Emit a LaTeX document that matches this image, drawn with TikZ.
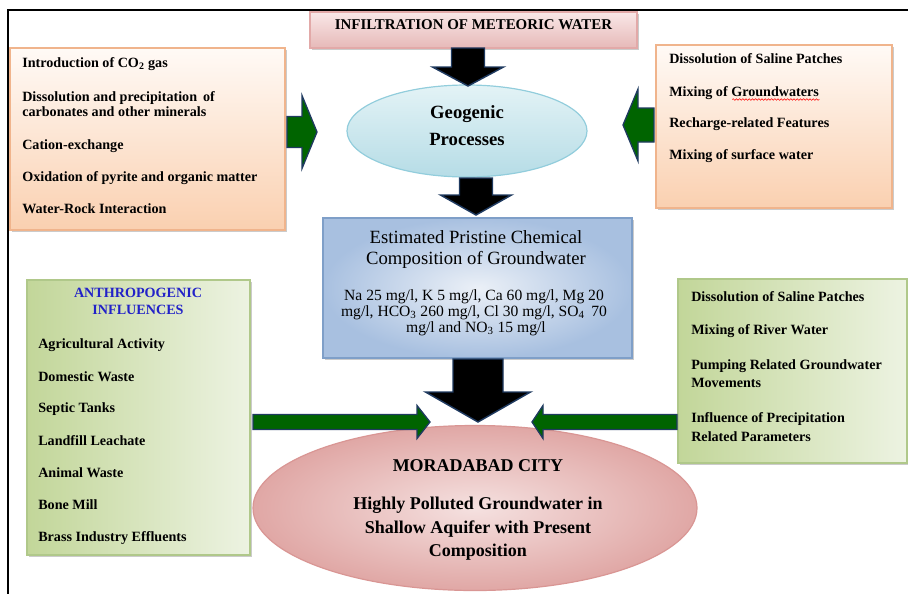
\documentclass[tikz,border=0pt]{standalone}
\usepackage{fontspec}
\setmainfont{Liberation Serif}
\usetikzlibrary{shapes.geometric,shadows,calc,decorations.pathmorphing}

\definecolor{peachtop}{HTML}{FFFAF6}
\definecolor{peachbot}{HTML}{FAD0B0}
\definecolor{peachline}{HTML}{F0B48C}
\definecolor{greenA}{HTML}{C2D699}
\definecolor{greenB}{HTML}{EDF3E2}
\definecolor{greenline}{HTML}{B0C88A}
\definecolor{blueout}{HTML}{A8C0E0}
\definecolor{bluein}{HTML}{EBF0F7}
\definecolor{blueline}{HTML}{7F9FC8}
\definecolor{geotop}{HTML}{E3F3F6}
\definecolor{geobot}{HTML}{B6DCE6}
\definecolor{geoline}{HTML}{92CDDC}
\definecolor{cityin}{HTML}{F5E1E0}
\definecolor{cityout}{HTML}{E0A7A5}
\definecolor{cityline}{HTML}{D99694}
\definecolor{bantop}{HTML}{F9E7E7}
\definecolor{banbot}{HTML}{E6B9B8}
\definecolor{banline}{HTML}{E2A9A8}
\definecolor{arrgreen}{HTML}{006400}
\definecolor{navyedge}{HTML}{1F3A60}
\definecolor{titleblue}{HTML}{2222C8}

\newcommand\fitem{\fontsize{10.6}{11.25}\selectfont\bfseries}
\newcommand\fbig{\fontsize{14}{16}\selectfont\bfseries}
\newcommand\fmidtitle{\fontsize{14}{16}\selectfont}
\newcommand\fmidbody{\fontsize{11.7}{12.5}\selectfont}

% vertical down block arrow: x, ytop, yhead, ytip, shaft half, head half
\newcommand\dnblk[6]{%
  \filldraw[blkarrow] (#1-#5,#2) -- (#1+#5,#2) -- (#1+#5,#3) -- (#1+#6,#3)
    -- (#1,#4) -- (#1-#6,#3) -- (#1-#5,#3) -- cycle;}
% horizontal block arrow: ycenter, xstart, xhead, xtip, shaft half, head half
\newcommand\hzblk[6]{%
  \filldraw[grnarrow] (#2,#1-#5) -- (#3,#1-#5) -- (#3,#1-#6) -- (#4,#1)
    -- (#3,#1+#6) -- (#3,#1+#5) -- (#2,#1+#5) -- cycle;}

\tikzset{
  shad/.style={drop shadow={shadow xshift=1.6pt,shadow yshift=-1.6pt,fill=black!45,opacity=0.45}},
  peachbox/.style={rectangle,draw=peachline,line width=0.9pt,top color=peachtop,bottom color=peachbot,shad,inner sep=0pt},
  greenbox/.style={rectangle,draw=greenline,line width=0.8pt,left color=greenA,right color=greenB,shad,inner sep=0pt},
  bluebox/.style={rectangle,draw=blueline,line width=0.9pt,inner color=bluein,outer color=blueout,shad,inner sep=0pt},
  banbox/.style={rectangle,draw=banline,line width=0.8pt,top color=bantop,bottom color=banbot,shad,inner sep=0pt},
  geoell/.style={ellipse,draw=geoline,line width=0.9pt,top color=geotop,bottom color=geobot,inner sep=0pt},
  cityell/.style={ellipse,draw=cityline,line width=0.9pt,inner color=cityin,outer color=cityout,inner sep=0pt},
  itm/.style={anchor=base west,inner sep=0pt,font=\fitem},
  ctr/.style={anchor=base,inner sep=0pt},
  blkarrow/.style={fill=black,draw=navyedge,line width=1.1pt,line join=miter},
  grnarrow/.style={fill=arrgreen,draw=navyedge,line width=1pt,line join=miter},
}

\begin{document}
\begin{tikzpicture}[x=0.75pt,y=-0.75pt]
\useasboundingbox (0,0) rectangle (908,594);

% frame
\draw[line width=2pt] (908,10) -- (8,10) -- (8,594);

% boxes and ellipses
\node[banbox,minimum width={327*0.75pt},minimum height={36*0.75pt}] (banner) at (473.5,30) {};
\node[peachbox,minimum width={275*0.75pt},minimum height={182*0.75pt}] (ltop) at (147.5,139) {};
\node[peachbox,minimum width={236*0.75pt},minimum height={163*0.75pt}] (rtop) at (774,126.5) {};
\node[geoell,minimum width={240*0.75pt},minimum height={92*0.75pt}] (geo) at (467,131) {};
\node[bluebox,minimum width={309*0.75pt},minimum height={140*0.75pt}] (mid) at (477.5,288) {};
\node[greenbox,minimum width={223*0.75pt},minimum height={275*0.75pt}] (lbot) at (138.5,417.5) {};
\node[greenbox,minimum width={229*0.75pt},minimum height={184*0.75pt}] (rbot) at (792.5,371) {};
\node[cityell,minimum width={444*0.75pt},minimum height={165*0.75pt}] (city) at (475,508) {};

% block arrows
\dnblk{468}{48}{67}{86}{16.5}{35.5}
\dnblk{476}{178}{195}{215}{16.5}{35.5}
\dnblk{478}{359}{392}{422}{25}{52.5}
\hzblk{132}{287}{302}{317}{15.5}{36.5}
\hzblk{125}{654}{638}{623}{17}{36}
\hzblk{422}{253}{417}{430}{7.5}{16.5}
\hzblk{422}{677}{543}{532}{7.5}{16.5}

% banner text
\node[ctr,font=\fontsize{11.2}{12}\selectfont\bfseries] (bantxt) at (473.5,29) {INFILTRATION OF METEORIC WATER};

% left top items
\node[itm] (lt1) at (22,67) {Introduction of CO\textsubscript{2} gas};
\node[itm] (lt2) at (22,101) {Dissolution and precipitation\, of};
\node[itm] (lt3) at (22,116) {carbonates and other minerals};
\node[itm] (lt4) at (22,149) {Cation-exchange};
\node[itm] (lt5) at (22,181) {Oxidation of pyrite and organic matter};
\node[itm] (lt6) at (22,213) {Water-Rock Interaction};

% right top items
\node[itm] (rt1) at (669,63) {Dissolution of Saline Patches};
\node[itm] (rt2) at (669,96) {Mixing of Groundwaters};
\node[itm] (rt3) at (669,127) {Recharge-related Features};
\node[itm] (rt4) at (669,159) {Mixing of surface water};
\draw[red,line width=0.4pt,decorate,decoration={snake,amplitude=0.6pt,segment length=2.4pt}]
  ($(rt2.base east)+(-87,3.5)$) -- ($(rt2.base east)+(0,3.5)$);

% geogenic
\node[ctr,font=\fbig] (geo1) at (467,118) {Geogenic};
\node[ctr,font=\fbig] (geo2) at (467,145) {Processes};

% middle box text
\node[ctr,font=\fmidtitle] (m1) at (476,243) {Estimated Pristine Chemical};
\node[ctr,font=\fmidtitle] (m2) at (476,264) {Composition of Groundwater};
\node[ctr,font=\fmidbody] (m3) at (474,300) {Na 25 mg/l, K 5 mg/l, Ca 60 mg/l, Mg 20};
\node[ctr,font=\fmidbody] (m4) at (474,316) {mg/l, HCO\textsubscript{3} 260 mg/l, Cl 30 mg/l, SO\textsubscript{4}\, 70};
\node[ctr,font=\fmidbody] (m5) at (476,332) {mg/l and NO\textsubscript{3} 15 mg/l};

% left bottom
\node[ctr,font=\fitem,text=titleblue] (lb0a) at (138,297) {ANTHROPOGENIC};
\node[ctr,font=\fitem,text=titleblue] (lb0b) at (138,314) {INFLUENCES};
\node[itm] (lb1) at (38,348) {Agricultural Activity};
\node[itm] (lb2) at (38,381) {Domestic Waste};
\node[itm] (lb3) at (38,412) {Septic Tanks};
\node[itm] (lb4) at (38,445) {Landfill Leachate};
\node[itm] (lb5) at (38,477) {Animal Waste};
\node[itm] (lb6) at (38,509) {Bone Mill};
\node[itm] (lb7) at (38,541) {Brass Industry Effluents};

% right bottom
\node[itm] (rb1) at (691,301) {Dissolution of Saline Patches};
\node[itm] (rb2) at (691,334) {Mixing of River Water};
\node[itm] (rb3) at (691,369) {Pumping Related Groundwater};
\node[itm] (rb4) at (691,387) {Movements};
\node[itm] (rb5) at (691,422) {Influence of Precipitation};
\node[itm] (rb6) at (691,441) {Related Parameters};

% city
\node[ctr,font=\fontsize{13.5}{15}\selectfont\bfseries] (c1) at (478,471) {MORADABAD CITY};
\node[ctr,font=\fontsize{13.5}{15}\selectfont\bfseries] (c2) at (478,509) {Highly Polluted Groundwater in};
\node[ctr,font=\fontsize{13.5}{15}\selectfont\bfseries] (c3) at (478,533) {Shallow Aquifer with Present};
\node[ctr,font=\fontsize{13.5}{15}\selectfont\bfseries] (c4) at (478,556) {Composition};
\end{tikzpicture}
\end{document}
